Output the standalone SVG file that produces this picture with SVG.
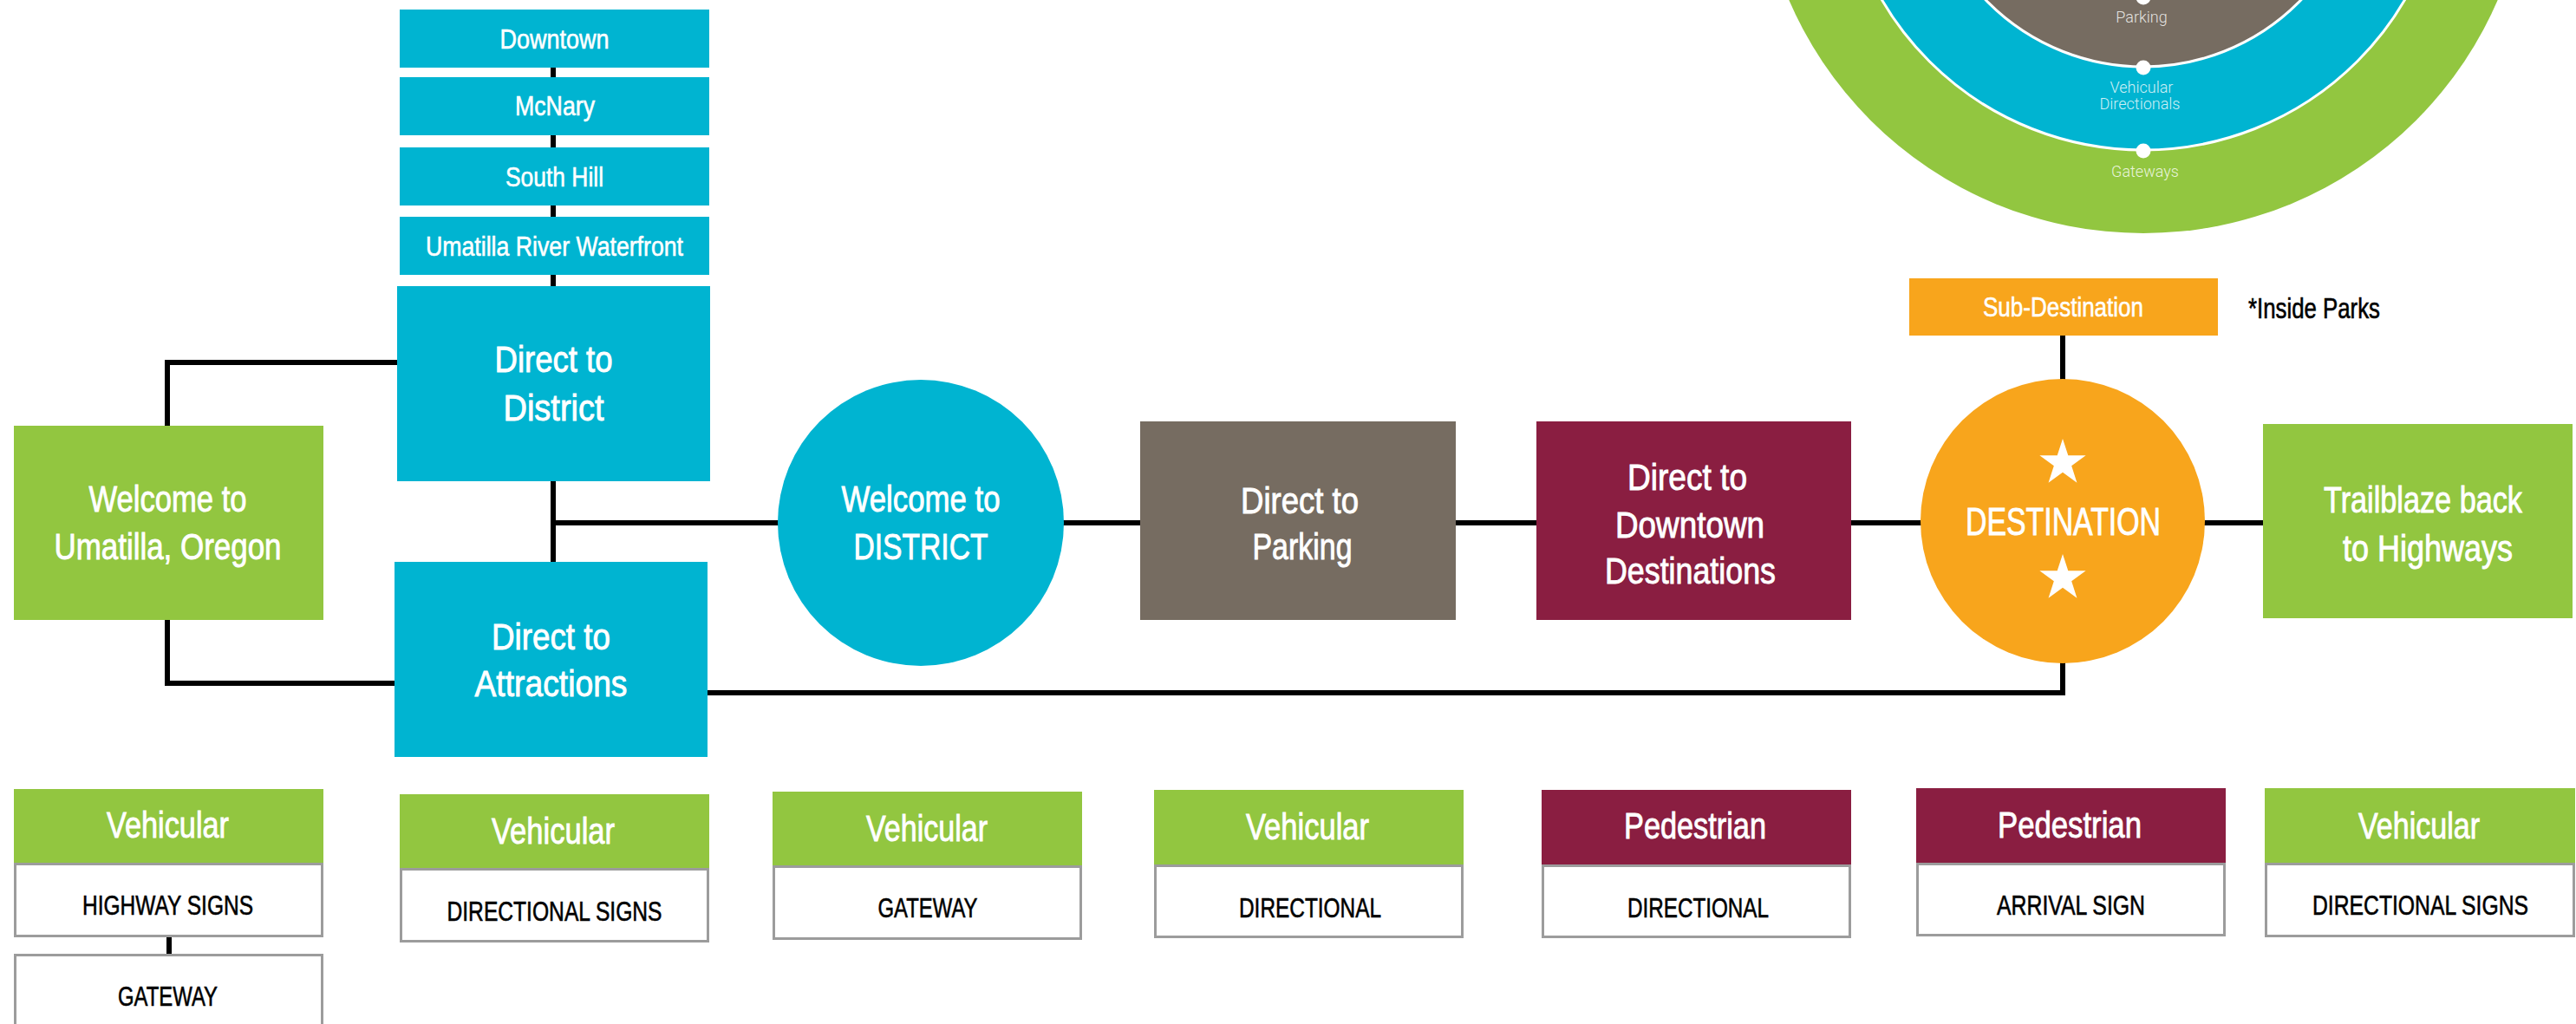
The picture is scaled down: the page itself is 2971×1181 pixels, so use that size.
<svg xmlns="http://www.w3.org/2000/svg" xmlns:xlink="http://www.w3.org/1999/xlink" width="2971" height="1181" viewBox="0 0 2971 1181">
<style>
.green{fill:#92c640}
.blue{fill:#00b4d1}
.brown{fill:#766c61}
.maroon{fill:#8a1e41}
.orange{fill:#f8a51c}
.card{fill:#ffffff;stroke:#9c9c9c;stroke-width:3}
.wire{fill:none;stroke:#000000;stroke-width:6;stroke-linejoin:miter;stroke-linecap:butt}
text{font-family:"Liberation Sans Narrow","Liberation Sans",Arial,sans-serif;text-anchor:middle}
.big{font-size:43px;fill:#ffffff;stroke:#ffffff;stroke-width:0.9}
.hd{font-size:43px;fill:#ffffff;stroke:#ffffff;stroke-width:0.9}
.sm{font-size:32px;fill:#ffffff;stroke:#ffffff;stroke-width:0.6}
.lbl{font-size:32px;fill:#000000;stroke:#000000;stroke-width:0.6}
.ring{font-family:Roboto,"Liberation Sans",sans-serif;font-weight:300;font-size:18px;fill:#ffffff;fill-opacity:0.82}
.sep{stroke:#ffffff;stroke-width:3}
</style>
<defs>
<path id="star" d="M0,-28 L6.29,-8.66 L26.63,-8.65 L10.18,3.31 L16.46,22.65 L0,10.7 L-16.46,22.65 L-10.18,3.31 L-26.63,-8.65 L-6.29,-8.66 Z" fill="#ffffff"/>
</defs>
<rect x="0" y="0" width="2971" height="1181" fill="#ffffff"/>

<g id="hierarchy-rings">
<circle cx="2472" cy="-176" r="445" class="green"/>
<circle cx="2472" cy="-176" r="349" class="blue sep"/>
<circle cx="2472" cy="-176" r="253" class="brown sep"/>
<circle cx="2472" cy="-3" r="8.5" fill="#ffffff"/>
<circle cx="2472" cy="78" r="8.5" fill="#ffffff"/>
<circle cx="2472" cy="174" r="8.5" fill="#ffffff"/>
<text class="ring" x="2470" y="26">Parking</text>
<text class="ring" x="2470" y="107">Vehicular</text>
<text class="ring" x="2468" y="126">Directionals</text>
<text class="ring" x="2474" y="204">Gateways</text>
</g>

<g id="connectors">
<path class="wire" d="M638,78 V330"/>
<path class="wire" d="M638,555 V648"/>
<path class="wire" d="M638,603 H2610"/>
<path class="wire" d="M193,491 V418 H458"/>
<path class="wire" d="M193,715 V788 H455"/>
<path class="wire" d="M816,799 H2379 V763"/>
<path class="wire" d="M2379,387 V439"/>
<path class="wire" d="M195,1081 V1100"/>
</g>

<g id="node-downtown">
<rect x="461" y="11" width="357" height="67" class="blue"/>
<text class="sm" x="639.5" y="56" textLength="126" lengthAdjust="spacingAndGlyphs">Downtown</text>
</g>
<g id="node-mcnary">
<rect x="461" y="89" width="357" height="67" class="blue"/>
<text class="sm" x="640" y="133" textLength="92" lengthAdjust="spacingAndGlyphs">McNary</text>
</g>
<g id="node-south-hill">
<rect x="461" y="170" width="357" height="67" class="blue"/>
<text class="sm" x="639.5" y="215" textLength="113" lengthAdjust="spacingAndGlyphs">South Hill</text>
</g>
<g id="node-waterfront">
<rect x="461" y="250" width="357" height="67" class="blue"/>
<text class="sm" x="639.5" y="295" textLength="297" lengthAdjust="spacingAndGlyphs">Umatilla River Waterfront</text>
</g>
<g id="node-direct-district">
<rect x="458" y="330" width="361" height="225" class="blue"/>
<text class="big" x="638.5" y="429" textLength="136" lengthAdjust="spacingAndGlyphs">Direct to</text>
<text class="big" x="638.5" y="485" textLength="116" lengthAdjust="spacingAndGlyphs">District</text>
</g>
<g id="node-welcome-umatilla">
<rect x="16" y="491" width="357" height="224" class="green"/>
<text class="big" x="193.5" y="590" textLength="182" lengthAdjust="spacingAndGlyphs">Welcome to</text>
<text class="big" x="193.5" y="645" textLength="262" lengthAdjust="spacingAndGlyphs">Umatilla, Oregon</text>
</g>
<g id="node-direct-attractions">
<rect x="455" y="648" width="361" height="225" class="blue"/>
<text class="big" x="635.5" y="749" textLength="137" lengthAdjust="spacingAndGlyphs">Direct to</text>
<text class="big" x="635.5" y="803" textLength="176" lengthAdjust="spacingAndGlyphs">Attractions</text>
</g>
<g id="node-welcome-district">
<circle cx="1062" cy="603" r="165" class="blue"/>
<text class="big" x="1062" y="590" textLength="183" lengthAdjust="spacingAndGlyphs">Welcome to</text>
<text class="big" x="1062" y="645" textLength="155" lengthAdjust="spacingAndGlyphs">DISTRICT</text>
</g>
<g id="node-direct-parking">
<rect x="1315" y="486" width="364" height="229" class="brown"/>
<text class="big" x="1499" y="592" textLength="136" lengthAdjust="spacingAndGlyphs">Direct to</text>
<text class="big" x="1502" y="645" textLength="115" lengthAdjust="spacingAndGlyphs">Parking</text>
</g>
<g id="node-direct-downtown">
<rect x="1772" y="486" width="363" height="229" class="maroon"/>
<text class="big" x="1946" y="565" textLength="138" lengthAdjust="spacingAndGlyphs">Direct to</text>
<text class="big" x="1949" y="620" textLength="172" lengthAdjust="spacingAndGlyphs">Downtown</text>
<text class="big" x="1949.5" y="673" textLength="197" lengthAdjust="spacingAndGlyphs">Destinations</text>
</g>
<g id="node-sub-destination">
<rect x="2202" y="321" width="356" height="66" class="orange"/>
<text class="sm" x="2379.5" y="365" textLength="185" lengthAdjust="spacingAndGlyphs">Sub-Destination</text>
</g>
<g id="note-inside-parks">
<text class="lbl" x="2593" y="367" textLength="152" lengthAdjust="spacingAndGlyphs" style="text-anchor:start;font-size:33px">*Inside Parks</text>
</g>
<g id="node-destination">
<circle cx="2379" cy="601" r="164" class="orange"/>
<use xlink:href="#star" href="#star" x="2379" y="534"/>
<use xlink:href="#star" href="#star" x="2379" y="667"/>
<text class="big" x="2379.5" y="617" textLength="225" lengthAdjust="spacingAndGlyphs" style="font-size:45px">DESTINATION</text>
</g>
<g id="node-trailblaze">
<rect x="2610" y="489" width="357" height="224" class="green"/>
<text class="big" x="2794.5" y="591" textLength="229" lengthAdjust="spacingAndGlyphs">Trailblaze back</text>
<text class="big" x="2800" y="647" textLength="196" lengthAdjust="spacingAndGlyphs">to Highways</text>
</g>

<g id="legend-1">
<rect x="16" y="910" width="357" height="85" class="green"/>
<rect x="17.5" y="996.5" width="354" height="83" class="card"/>
<rect x="17.5" y="1101.5" width="354" height="100" class="card"/>
<text class="hd" x="193.5" y="966" textLength="141" lengthAdjust="spacingAndGlyphs">Vehicular</text>
<text class="lbl" x="193.5" y="1055" textLength="197" lengthAdjust="spacingAndGlyphs">HIGHWAY SIGNS</text>
<text class="lbl" x="193.5" y="1160" textLength="115" lengthAdjust="spacingAndGlyphs">GATEWAY</text>
</g>
<g id="legend-2">
<rect x="461" y="916" width="357" height="85" class="green"/>
<rect x="462.5" y="1002.5" width="354" height="83" class="card"/>
<text class="hd" x="638" y="973" textLength="142" lengthAdjust="spacingAndGlyphs">Vehicular</text>
<text class="lbl" x="639.5" y="1062" textLength="248" lengthAdjust="spacingAndGlyphs">DIRECTIONAL SIGNS</text>
</g>
<g id="legend-3">
<rect x="891" y="913" width="357" height="85" class="green"/>
<rect x="892.5" y="999.5" width="354" height="83" class="card"/>
<text class="hd" x="1069" y="970" textLength="140" lengthAdjust="spacingAndGlyphs">Vehicular</text>
<text class="lbl" x="1070" y="1058" textLength="115" lengthAdjust="spacingAndGlyphs">GATEWAY</text>
</g>
<g id="legend-4">
<rect x="1331" y="911" width="357" height="86" class="green"/>
<rect x="1332.5" y="998.5" width="354" height="82" class="card"/>
<text class="hd" x="1508" y="968" textLength="142" lengthAdjust="spacingAndGlyphs">Vehicular</text>
<text class="lbl" x="1511" y="1058" textLength="164" lengthAdjust="spacingAndGlyphs">DIRECTIONAL</text>
</g>
<g id="legend-5">
<rect x="1778" y="911" width="357" height="86" class="maroon"/>
<rect x="1779.5" y="998.5" width="354" height="82" class="card"/>
<text class="hd" x="1955" y="967" textLength="164" lengthAdjust="spacingAndGlyphs">Pedestrian</text>
<text class="lbl" x="1958.5" y="1058" textLength="163" lengthAdjust="spacingAndGlyphs">DIRECTIONAL</text>
</g>
<g id="legend-6">
<rect x="2210" y="909" width="357" height="86" class="maroon"/>
<rect x="2211.5" y="996.5" width="354" height="82" class="card"/>
<text class="hd" x="2387" y="966" textLength="166" lengthAdjust="spacingAndGlyphs">Pedestrian</text>
<text class="lbl" x="2388.5" y="1055" textLength="171" lengthAdjust="spacingAndGlyphs">ARRIVAL SIGN</text>
</g>
<g id="legend-7">
<rect x="2612" y="909" width="358" height="86" class="green"/>
<rect x="2613.5" y="996.5" width="355" height="83" class="card"/>
<text class="hd" x="2790" y="967" textLength="140" lengthAdjust="spacingAndGlyphs">Vehicular</text>
<text class="lbl" x="2791.5" y="1055" textLength="249" lengthAdjust="spacingAndGlyphs">DIRECTIONAL SIGNS</text>
</g>
</svg>
